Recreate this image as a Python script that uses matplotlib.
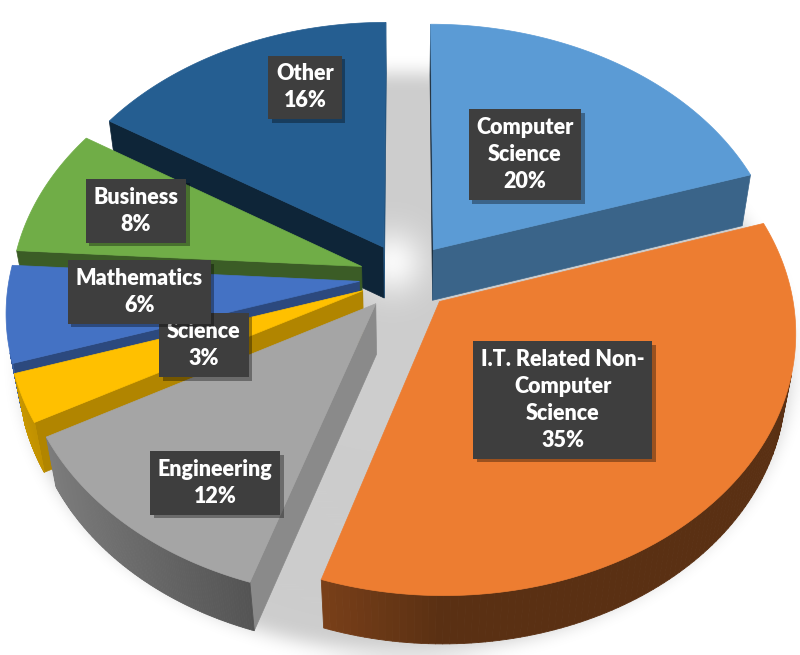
import numpy as np
import matplotlib
matplotlib.use("Agg")
import matplotlib.pyplot as plt
from matplotlib.patches import Polygon
from matplotlib.collections import PolyCollection
from matplotlib.path import Path
import matplotlib.patheffects as pe

# ---------------- data ----------------
categories = ["Computer\nScience", "I.T. Related Non-\nComputer\nScience", "Engineering",
              "Science", "Mathematics", "Business", "Other"]
values = [20, 35, 12, 3, 6, 8, 16]
colors = ["#5B9BD5", "#ED7D31", "#A5A5A5", "#FFC000", "#4472C4", "#70AD47", "#255E91"]

# label placement in pie polar coords (radius fraction, angle deg clockwise from top)
label_r = [0.485, 0.49, 0.76, 0.484, 0.626, 0.704, 0.733]
label_t = [35.3, 137.6, 213.1, 244.8, 266.2, 288.6, 340.1]

# ---------------- projection ----------------
W, H = 800, 655
F, D = 2166.0, 6.19
EL = np.radians(47)
S, C = np.sin(EL), np.cos(EL)
U0, V0 = 406.0, 277.0
TH = 0.2175      # thickness
EXPL = 0.134     # explosion distance


def proj(X, Y, Z):
    X = np.asarray(X, float); Y = np.asarray(Y, float); Z = np.asarray(Z, float)
    w = D + Y * C - Z * S
    return U0 + F * X / w, V0 - F * (Y * S + Z * C) / w


def shade(col, f):
    r, g, b = matplotlib.colors.to_rgb(col)
    f = max(0.0, min(f, 1.2))
    return (min(r * f, 1), min(g * f, 1), min(b * f, 1))


fig = plt.figure(figsize=(8, 6.55), dpi=100)
ax = fig.add_axes([0, 0, 1, 1])
ax.set_xlim(0, W)
ax.set_ylim(H, 0)
ax.axis("off")

# ---------------- soft shadow under pie ----------------
tt = np.linspace(0, 2 * np.pi, 400)
su, sv = proj(1.12 * np.sin(tt), 1.12 * np.cos(tt), np.full_like(tt, -TH))
yy, xx = np.mgrid[0:H, 0:W]
mask = Path(np.column_stack([su, sv])).contains_points(
    np.column_stack([xx.ravel() + 0.5, yy.ravel() + 0.5])).reshape(H, W).astype(float)


def box1d(a, r, axis):
    pad = [(0, 0), (0, 0)]
    pad[axis] = (r + 1, r)
    p = np.pad(a, pad, mode="edge")
    c = np.cumsum(p, axis=axis)
    if axis == 0:
        return (c[2 * r + 1:] - c[:-2 * r - 1]) / (2 * r + 1)
    return (c[:, 2 * r + 1:] - c[:, :-2 * r - 1]) / (2 * r + 1)


for _ in range(3):
    mask = box1d(mask, 8, 0)
    mask = box1d(mask, 8, 1)
gu, gv = proj(-0.04, 0.06, 0.0)
glow = np.exp(-(((xx - gu) ** 2 + (yy - gv) ** 2) / (2 * 22.0 ** 2)))
alpha = 0.2 * mask * (1 - 0.85 * glow)
img = np.zeros((H, W, 4))
img[..., 3] = alpha
ax.imshow(img, extent=(0, W, H, 0), zorder=0, interpolation="bilinear")

# ---------------- slices ----------------
total = float(sum(values))
bounds = np.concatenate([[0], np.cumsum(values)]) / total * 360.0
camX, camY, camZ = 0.0, -D * C, D * S

slices = []
for i, v in enumerate(values):
    t1, t2 = bounds[i], bounds[i + 1]
    bis = np.radians((t1 + t2) / 2)
    ox, oy = EXPL * np.sin(bis), EXPL * np.cos(bis)
    depth = oy + 0.5 * np.cos(bis)
    slices.append((depth, i, t1, t2, ox, oy))

slices.sort(key=lambda s: -s[0])
z = 2
label_pos = {}
for depth, i, t1, t2, ox, oy in slices:
    col = colors[i]
    th = np.radians(np.linspace(t1, t2, 120))
    Xa, Ya = ox + np.sin(th), oy + np.cos(th)
    tu, tv = proj(Xa, Ya, np.zeros_like(th))
    bu, bv = proj(Xa, Ya, np.full_like(th, -TH))
    au, av = proj(ox, oy, 0.0)
    abu, abv = proj(ox, oy, -TH)

    # radial faces
    r1, r2 = np.radians(t1), np.radians(t2)
    vis_s = (-np.cos(r1)) * (camX - ox) + np.sin(r1) * (camY - oy)
    vis_e = np.cos(r2) * (camX - ox) - np.sin(r2) * (camY - oy)
    if vis_s > 0:
        nx = -np.cos(r1)
        poly = [(au, av), (tu[0], tv[0]), (bu[0], bv[0]), (abu, abv)]
        fc = shade(col, 0.55 + 0.3 * nx)
        ax.add_patch(Polygon(poly, closed=True, fc=fc, ec=fc, lw=0.5, zorder=z))
    if vis_e > 0:
        nx = np.cos(r2)
        poly = [(au, av), (tu[-1], tv[-1]), (bu[-1], bv[-1]), (abu, abv)]
        fc = shade(col, 0.55 + 0.3 * nx)
        ax.add_patch(Polygon(poly, closed=True, fc=fc, ec=fc, lw=0.5, zorder=z))

    # outer curved side
    vis = -ox * np.sin(th) - 1 - (D * C + oy) * np.cos(th)
    quads, qc = [], []
    for k in range(len(th) - 1):
        if vis[k] > 0 and vis[k + 1] > 0:
            quads.append([(tu[k], tv[k]), (tu[k + 1], tv[k + 1]),
                          (bu[k + 1], bv[k + 1]), (bu[k], bv[k])])
            tm = 0.5 * (th[k] + th[k + 1])
            qc.append(shade(col, min(max(0.377 + 0.43 * (-np.sin(tm)), 0.38), 0.8)))
    if quads:
        ax.add_collection(PolyCollection(quads, facecolors=qc, edgecolors=qc,
                                         linewidths=0.6, zorder=z))

    # top face
    top = np.column_stack([np.concatenate([[au], tu]), np.concatenate([[av], tv])])
    ax.add_patch(Polygon(top, closed=True, fc=col, ec=col, lw=0.5, zorder=z + 0.5))
    z += 1

    lt = np.radians(label_t[i])
    lu, lv = proj(ox + label_r[i] * np.sin(lt), oy + label_r[i] * np.cos(lt), 0.0)
    label_pos[i] = (float(lu), float(lv))

# ---------------- labels ----------------
order = [6, 0, 1, 2, 3, 5, 4]
for j, i in enumerate(order):
    pct = values[i] / total * 100
    txt = f"{categories[i]}\n{pct:.0f}%"
    lu, lv = label_pos[i]
    t = ax.text(lu, lv, txt, ha="center", va="center", ma="center",
                color="white", fontsize=15.5, fontweight="heavy",
                family=["Lato", "DejaVu Sans"], linespacing=1.36, zorder=50 + j,
                bbox=dict(boxstyle="square,pad=0.36", fc="#3E3E3E", ec="none"))
    t.get_bbox_patch().set_path_effects([
        pe.SimplePatchShadow(offset=(2.5, -2.5), alpha=0.35, shadow_rgbFace="black"),
        pe.Normal()])

fig.savefig("out.png", dpi=100)
